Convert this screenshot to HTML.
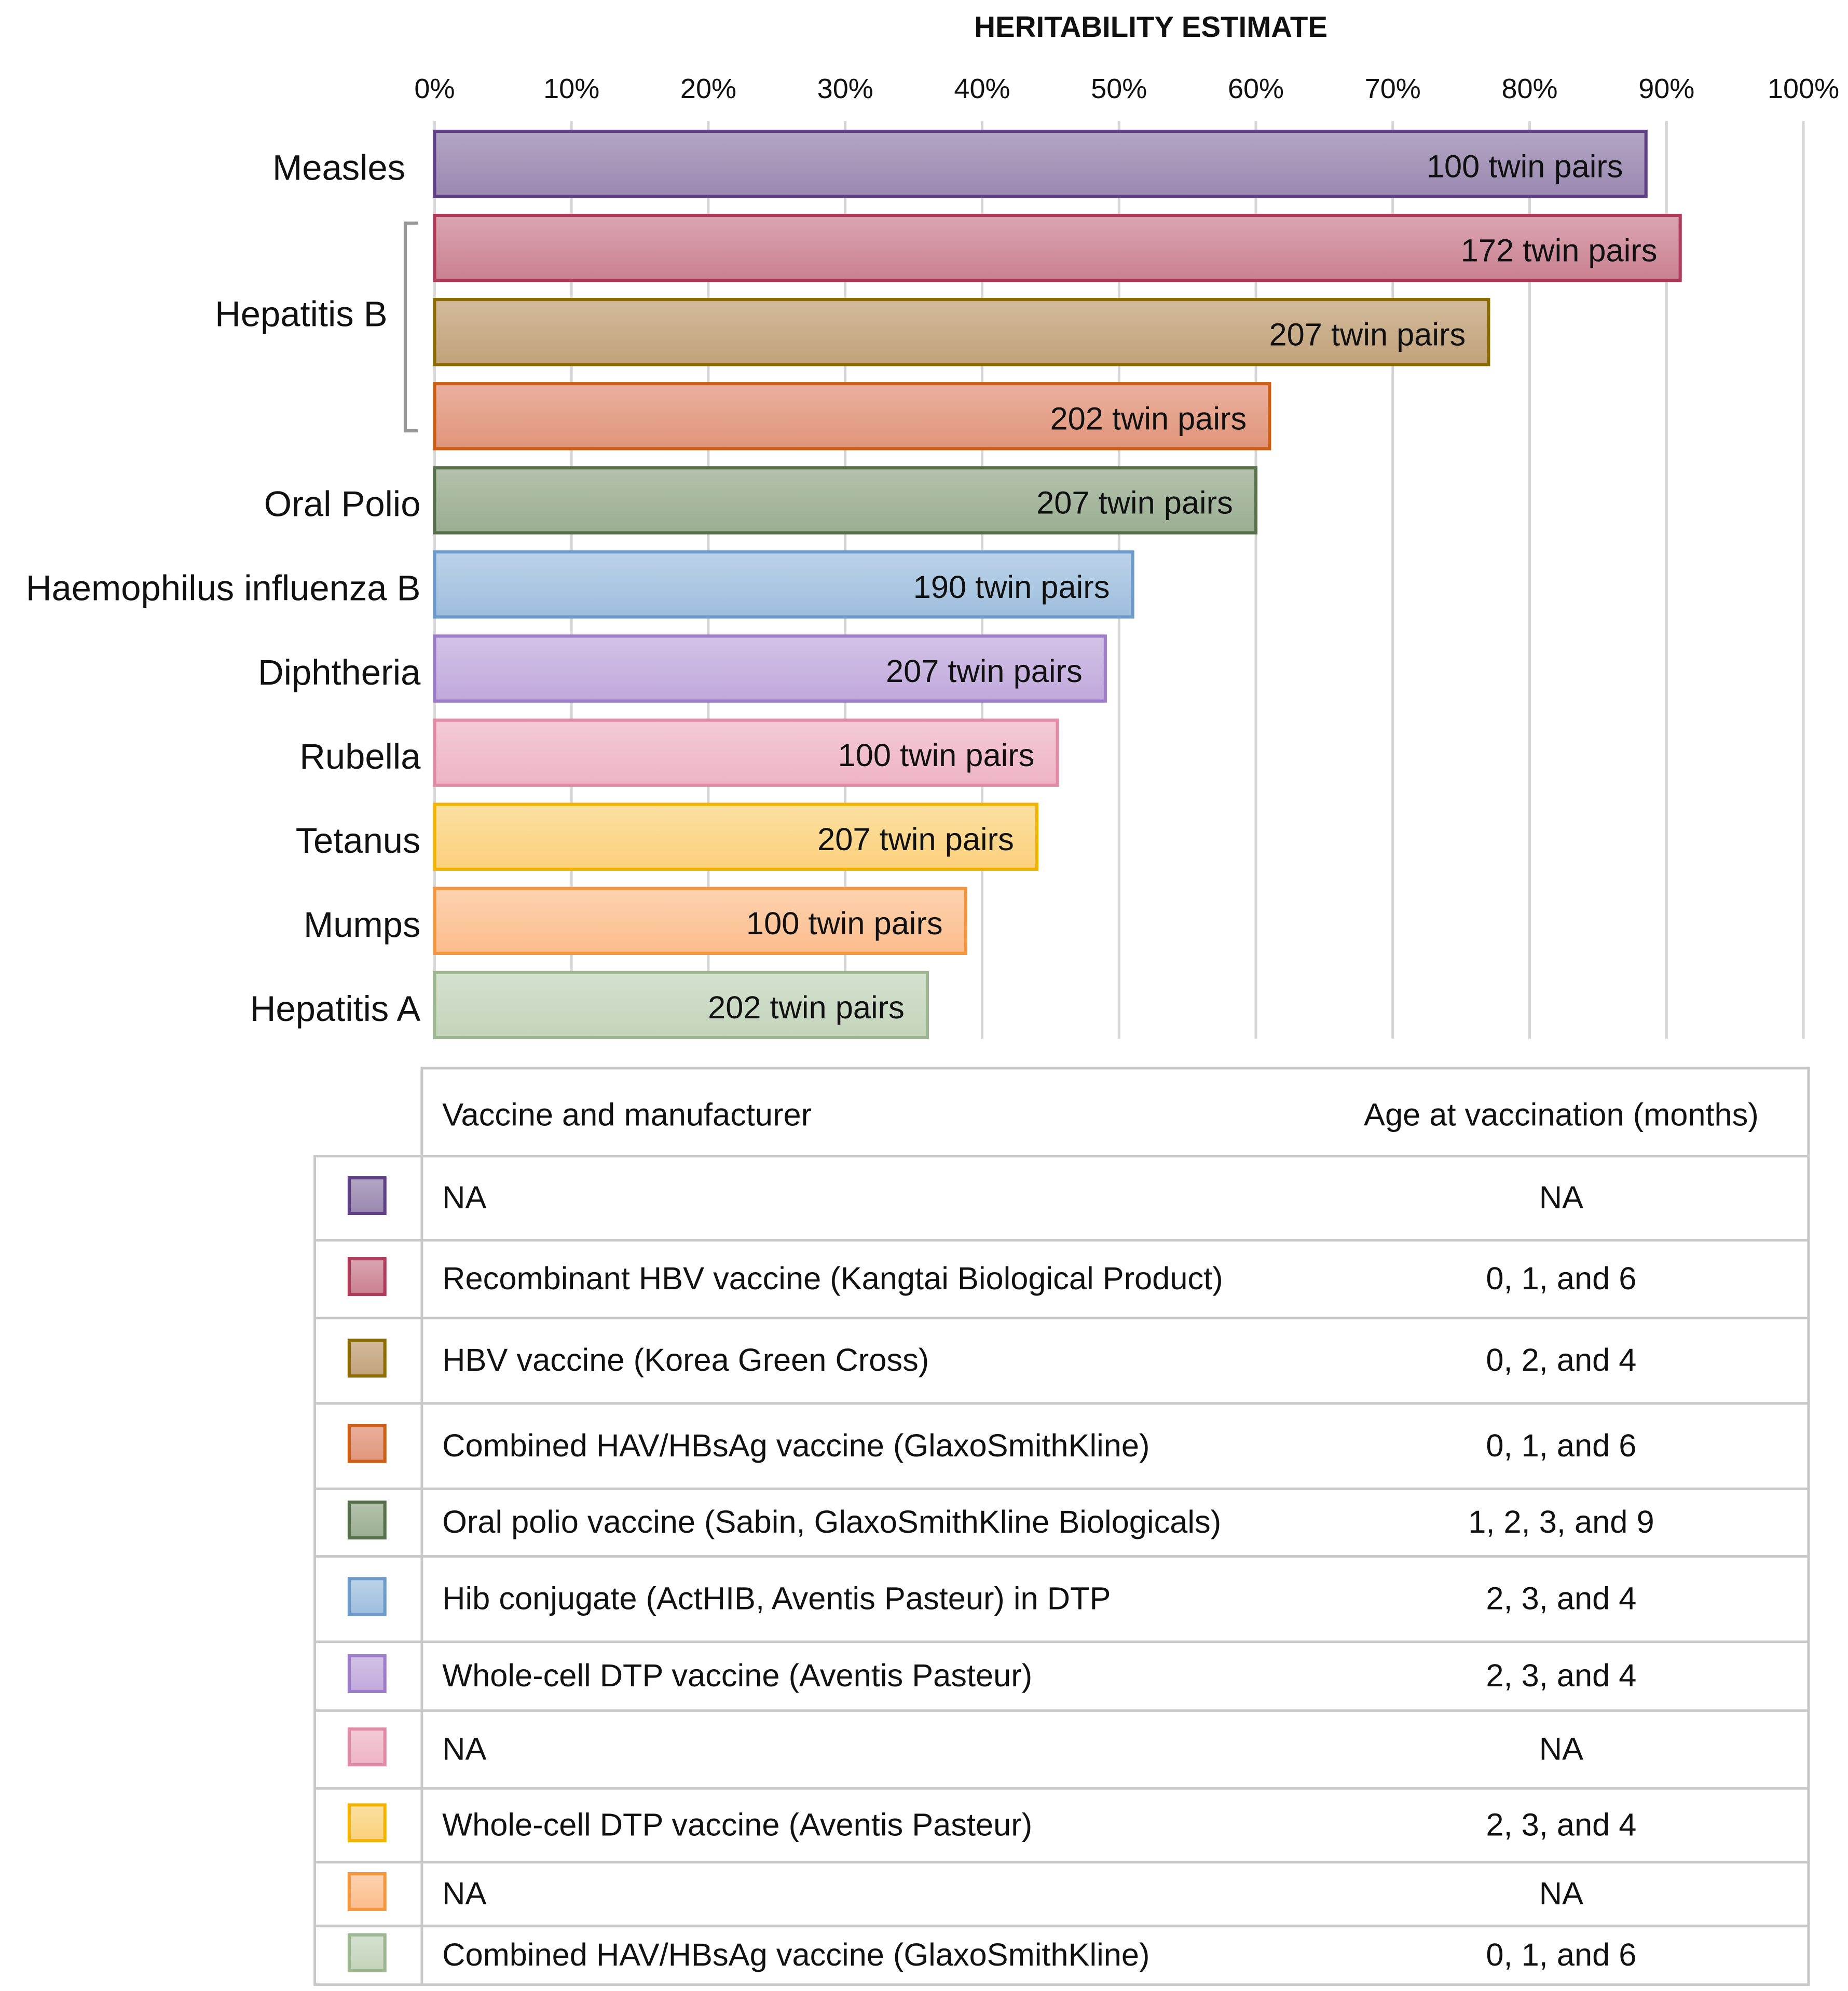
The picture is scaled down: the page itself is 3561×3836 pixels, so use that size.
<!DOCTYPE html>
<html><head><meta charset="utf-8"><style>
html,body{margin:0;padding:0;background:#fff}
svg{display:block}
text{font-family:"Liberation Sans",sans-serif;fill:#111}
</style></head><body>
<svg id="chart" width="3561" height="3836" viewBox="0 0 1450 1562" preserveAspectRatio="none" xmlns="http://www.w3.org/2000/svg">
<defs id="defs"></defs>
<text x="903" y="29" text-anchor="middle" font-size="23" font-weight="bold">HERITABILITY ESTIMATE</text>
<g id="grid"></g><g id="ticks"></g><g id="bars"></g><g id="labels"></g>
<path d="M328 175 H318 V338 H328" fill="none" stroke="#999" stroke-width="2.5"/>
<g id="table"></g>
</svg>
<script>
const categories=["Measles","Hepatitis B","","","Oral Polio","Haemophilus influenza B","Diphtheria","Rubella","Tetanus","Mumps","Hepatitis A"];
const values=[88.5,91,77,61,60,51,49,45.5,44,38.8,36];
const pairs=["100 twin pairs","172 twin pairs","207 twin pairs","202 twin pairs","207 twin pairs","190 twin pairs","207 twin pairs","100 twin pairs","207 twin pairs","100 twin pairs","202 twin pairs"];
const tickLabels=["0%","10%","20%","30%","40%","50%","60%","70%","80%","90%","100%"];
const vaccines=["NA","Recombinant HBV vaccine (Kangtai Biological Product)","HBV vaccine (Korea Green Cross)","Combined HAV/HBsAg vaccine (GlaxoSmithKline)","Oral polio vaccine (Sabin, GlaxoSmithKline Biologicals)","Hib conjugate (ActHIB, Aventis Pasteur) in DTP","Whole-cell DTP vaccine (Aventis Pasteur)","NA","Whole-cell DTP vaccine (Aventis Pasteur)","NA","Combined HAV/HBsAg vaccine (GlaxoSmithKline)"];
const ages=["NA","0, 1, and 6","0, 2, and 4","0, 1, and 6","1, 2, 3, and 9","2, 3, and 4","2, 3, and 4","NA","2, 3, and 4","NA","0, 1, and 6"];
const fills=[["#b3a6c4","#9a88b0"],["#dba5b2","#c98090"],["#d2bb9c","#c2a27a"],["#eab09e","#e0957a"],["#b4c2ad","#9aae92"],["#bcd3e8","#9dbddd"],["#d3c3e6","#c0a8dc"],["#f4cad6","#eeb4c6"],["#fbe0a0","#fbd07c"],["#fdd3b0","#fcbc8c"],["#d5e1cf","#c3d4bb"]];
const strokes=["#5f3f86","#b03a5a","#8c6c00","#cc5f14","#55704a","#6c9acb","#9c7cc8","#e08aa6","#f2b400","#f5973e","#9cb790"];
const NS="http://www.w3.org/2000/svg";
const x0=341,x1=1415;
function xs(v){return x0+(x1-x0)*v/100;}
function yb(i){return 103+i*66;}
function mk(tag,attrs,parent,txt){const e=document.createElementNS(NS,tag);for(const k in attrs)e.setAttribute(k,attrs[k]);if(txt!==undefined)e.textContent=txt;parent.appendChild(e);return e;}
const defs=document.getElementById('defs'),grid=document.getElementById('grid'),ticks=document.getElementById('ticks'),bars=document.getElementById('bars'),labels=document.getElementById('labels'),table=document.getElementById('table');
tickLabels.forEach((t,i)=>{
  const v=i*10;
  const l=mk('line',{x1:xs(v),x2:xs(v),y1:95,y2:815,stroke:'#d6d6d6','stroke-width':2},grid);
  
  
  const tx=mk('text',{x:xs(v),y:77,'text-anchor':'middle','font-size':22},ticks,t);
  
  
});
values.forEach((v,i)=>{
  const g=mk('linearGradient',{id:'g'+i,x1:0,y1:0,x2:0,y2:1},defs);
  mk('stop',{offset:0,'stop-color':fills[i][0]},g);mk('stop',{offset:1,'stop-color':fills[i][1]},g);
  const y=yb(i);
  const r=mk('rect',{x:x0,y:y,width:xs(v)-x0,height:51,fill:'url(#g'+i+')',stroke:strokes[i],'stroke-width':2.5},bars);
  
  
  const t=mk('text',{x:xs(v)-18,y:y+36,'text-anchor':'end','font-size':25},bars,pairs[i]);
  
  
  if(categories[i]){
    let ly=y+38,lx=330;
    if(i===0)lx=318;
    if(i===1){ly=256;lx=304;}
    const c=mk('text',{x:lx,y:ly,'text-anchor':'end','font-size':28},labels,categories[i]);
    
    
  }
});
const rowY=[907,973,1034,1101,1168,1221,1288,1342,1403,1461,1511,1557];
mk('rect',{x:331,y:838,width:1088,height:69,fill:'none',stroke:'#c8c8c8','stroke-width':2},table);
mk('rect',{x:247,y:907,width:1172,height:650,fill:'none',stroke:'#c8c8c8','stroke-width':2},table);
mk('line',{x1:331,x2:331,y1:838,y2:1557,stroke:'#c8c8c8','stroke-width':2},table);
const h1=mk('text',{x:347,y:883,'font-size':25},table,'Vaccine and manufacturer');


const h2=mk('text',{x:1225,y:883,'text-anchor':'middle','font-size':25},table,'Age at vaccination (months)');


vaccines.forEach((v,i)=>{
  const top=rowY[i],bot=rowY[i+1],mid=(top+bot)/2;
  if(i>0){mk('line',{x1:247,x2:1419,y1:top,y2:top,stroke:'#c8c8c8','stroke-width':2},table);}
  const s=mk('rect',{x:274,y:mid-16,width:28,height:28,fill:'url(#g'+i+')',stroke:strokes[i],'stroke-width':2.5},table);
  
  
  const t=mk('text',{x:347,y:mid+8,'font-size':25,fill:'#333'},table,v);
  
  
  const a=mk('text',{x:1225,y:mid+8,'text-anchor':'middle','font-size':25},table,ages[i]);
  
  
});
</script>
</body></html>
